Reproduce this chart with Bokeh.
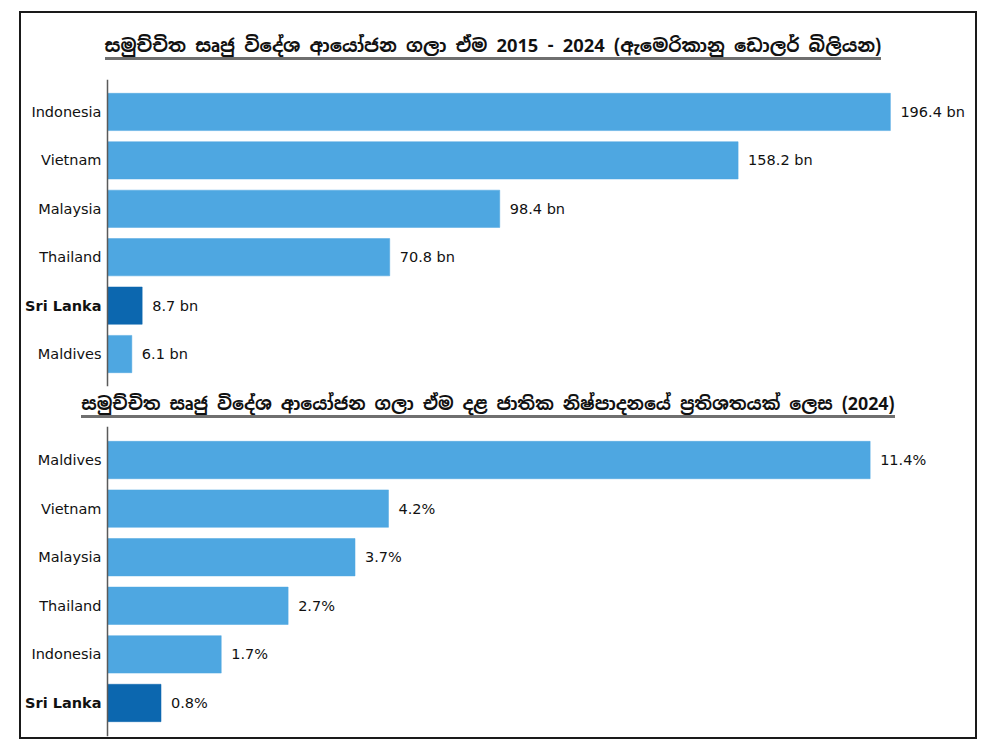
from bokeh.plotting import figure
from bokeh.models import ColumnDataSource, FactorRange, Range1d, LabelSet, Div, Span
from bokeh.layouts import column
from bokeh.core.properties import value
from bokeh.embed import file_html
from bokeh.resources import INLINE

# ---- data ----
title1 = "සමුච්චිත සෘජු විදේශ ආයෝජන ගලා ඒම 2015 - 2024 (ඇමෙරිකානු ඩොලර් බිලියන)"
countries1 = ["Indonesia", "Vietnam", "Malaysia", "Thailand", "Sri Lanka", "Maldives"]
fdi_bn = [196.4, 158.2, 98.4, 70.8, 8.7, 6.1]
fdi_labels = ["196.4 bn", "158.2 bn", "98.4 bn", "70.8 bn", "8.7 bn", "6.1 bn"]

title2 = "සමුච්චිත සෘජු විදේශ ආයෝජන ගලා ඒම දළ ජාතික නිෂ්පාදනයේ ප්\u200dරතිශතයක් ලෙස (2024)"
countries2 = ["Maldives", "Vietnam", "Malaysia", "Thailand", "Indonesia", "Sri Lanka"]
gdp_pct = [11.4, 4.2, 3.7, 2.7, 1.7, 0.8]
gdp_labels = ["11.4%", "4.2%", "3.7%", "2.7%", "1.7%", "0.8%"]

highlight = "Sri Lanka"
LIGHT = "#4EA7E1"
DARK = "#0C67AF"
FONT = "DejaVu Sans"
TFONT = "'Noto Sans Sinhala', 'Noto Serif Sinhala', 'Iskoola Pota', 'Noto Sans', sans-serif"

W = 954          # inner width of the framed area
LEFT_PX = 86     # room for country names left of the axis
BAR_PX = 863     # width of the plotting region right of the axis


def title_div(text, height, pad_top, size, shift):
    html = (
        f'<div style="width:{W - shift}px;padding-right:{shift}px;text-align:center;padding-top:{pad_top}px;'
        f'font-family:{TFONT};font-size:{size}px;font-weight:bold;color:#111;line-height:1.15;">'
        f'<span style="border-bottom:3px solid #6f6f6f;">{text}</span></div>'
    )
    return Div(text=html, width=W, height=height, margin=0)


def bar_chart(countries, values, labels, end, height, mb_top, mb_bottom, pad):
    src = ColumnDataSource(dict(
        cat=countries,
        val=values,
        lab=labels,
        zero=[0] * len(countries),
        color=[DARK if c == highlight else LIGHT for c in countries],
        style=["bold" if c == highlight else "normal" for c in countries],
    ))
    yr = FactorRange(factors=list(reversed(countries)), range_padding=pad,
                     range_padding_units="absolute")
    start = -end * LEFT_PX / BAR_PX
    p = figure(width=W, height=height, y_range=yr, x_range=Range1d(start, end),
               output_backend="svg", toolbar_location=None,
               min_border_left=0, min_border_right=W - LEFT_PX - BAR_PX,
               min_border_top=mb_top, min_border_bottom=mb_bottom)
    p.hbar(y="cat", right="val", left=0, height=0.77, source=src,
           fill_color="color", line_color="color", line_width=0.5)
    p.xaxis.visible = False
    p.yaxis.visible = False
    p.grid.visible = False
    p.outline_line_color = None
    p.add_layout(Span(location=0, dimension="height", line_color="#5a5a5a", line_width=1.5))
    p.add_layout(LabelSet(x="zero", y="cat", text="cat", source=src, x_offset=-6,
                          text_align="right", text_baseline="middle",
                          text_font=value(FONT), text_font_size="14.5px",
                          text_font_style="style", text_color="#111"))
    p.add_layout(LabelSet(x="val", y="cat", text="lab", source=src, x_offset=10,
                          text_align="left", text_baseline="middle",
                          text_font=value(FONT), text_font_size="14.5px", text_color="#111"))
    return p


d1 = title_div(title1, 51, 22, 18.3, 5)
p1 = bar_chart(countries1, fdi_bn, fdi_labels, 216.5, 325, 15, 3, 0.17)
d2 = title_div(title2, 35, 5, 17.8, 10)
p2 = bar_chart(countries2, gdp_pct, gdp_labels, 12.9, 313, 2, 1, 0.19)

layout = column(d1, p1, d2, p2, spacing=0, margin=(11, 0, 0, 19),
                styles={"border": "2px solid #1a1a1a", "background": "white"})

open("out.html", "w").write(file_html(layout, INLINE))
